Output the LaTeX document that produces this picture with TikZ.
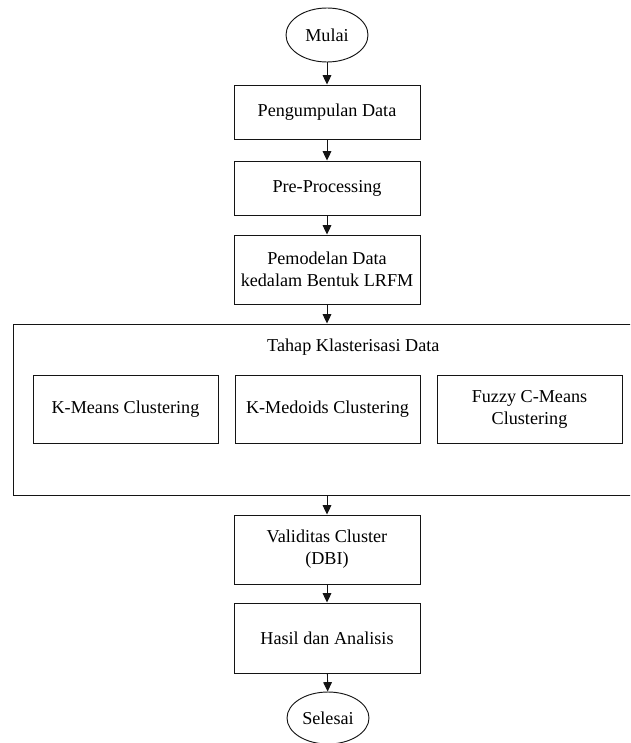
\documentclass[tikz,border=0pt]{standalone}
\usepackage{fontspec}
\setmainfont{Liberation Serif}
\usepackage{tikz}
\usetikzlibrary{arrows.meta,positioning,shapes.geometric}
\definecolor{ink}{RGB}{20,20,20}
\tikzset{
  proc/.style={rectangle,draw=ink,line width=0.8pt,minimum width=5.58cm,minimum height=1.62cm,
    align=center,inner sep=2pt,font=\fontsize{15.5}{18.8}\selectfont},
  tall/.style={proc,minimum height=2.07cm},
  term/.style={ellipse,draw=ink,line width=0.8pt,minimum width=2.46cm,minimum height=1.62cm,
    inner sep=0pt,font=\fontsize{15.5}{18.8}\selectfont},
  arr/.style={-{Triangle[length=2.8mm,width=2.6mm]},line width=0.8pt,draw=ink},
}

\begin{document}
\begin{tikzpicture}
\clip (0,0) rectangle (18.9,-22.29);
% main column
\node[term] (mulai) at (9.81,-1.05) {Mulai};
\node[proc] (kumpul) at (9.81,-3.36) {Pengumpulan Data};
\node[proc] (prepro) at (9.81,-5.64) {Pre-Processing};
\node[tall] (model) at (9.81,-8.085) {Pemodelan Data\\kedalam Bentuk LRFM};
% clustering stage
\node[rectangle,draw=ink,line width=0.8pt,minimum width=20.4cm,minimum height=5.13cm] (tahap) at (10.59,-12.285) {};
\node[font=\fontsize{15.5}{18.8}\selectfont] (judul) at (10.6,-10.4) {Tahap Klasterisasi Data};
\node[proc,minimum width=5.55cm,minimum height=2.04cm] (kmeans) at (3.765,-12.27) {K-Means Clustering};
\node[proc,minimum width=5.55cm,minimum height=2.04cm] (kmedoids) at (9.825,-12.27) {K-Medoids Clustering};
\node[proc,minimum width=5.55cm,minimum height=2.04cm] (fcm) at (15.885,-12.27) {Fuzzy C-Means\\Clustering};
% evaluation
\node[tall] (valid) at (9.81,-16.485) {Validitas Cluster\\(DBI)};
\node[tall,minimum height=2.1cm] (hasil) at (9.81,-19.14) {Hasil dan Analisis};
\node[term,minimum height=1.56cm] (selesai) at (9.84,-21.54) {Selesai};
% arrows
\draw[arr] (mulai) -- (kumpul);
\draw[arr] (kumpul) -- (prepro);
\draw[arr] (prepro) -- (model);
\draw[arr] (model.south) -- (model.south |- tahap.north);
\draw[arr] (model.south |- tahap.south) -- (valid.north);
\draw[arr] (valid) -- (hasil);
\draw[arr] (hasil) -- (selesai);
\end{tikzpicture}
\end{document}
